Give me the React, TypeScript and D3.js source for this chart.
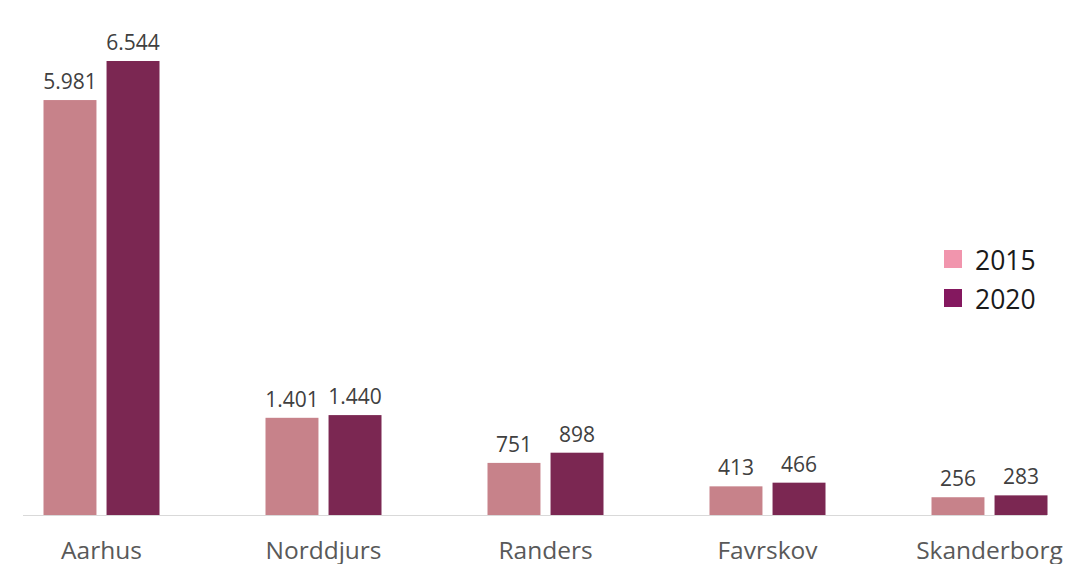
import React from "react";
import * as d3 from "d3";

const categories = ["Aarhus", "Norddjurs", "Randers", "Favrskov", "Skanderborg"];
const seriesNames = ["2015", "2020"];
const values2015 = [5981, 1401, 751, 413, 256];
const values2020 = [6544, 1440, 898, 466, 283];
const valueLabels2015 = ["5.981", "1.401", "751", "413", "256"];
const valueLabels2020 = ["6.544", "1.440", "898", "466", "283"];

const barColors = ["#c7828a", "#7b2752"];
const legendColors = ["#f195ad", "#84185f"];

const W = 1066;
const H = 564;
const baseY = 515;

export default function App() {
  const x = d3.scaleBand<string>().domain(categories).range([-9.5, 1100.5]).padding(0);
  const inner = d3.scaleBand<string>().domain(seriesNames).range([-58, 58]).paddingInner(0.16);
  const y = d3.scaleLinear().domain([0, 7000]).range([baseY, baseY - 7000 * (454 / 6544)]);
  const series = [values2015, values2020];
  const labels = [valueLabels2015, valueLabels2020];
  const font = "'Open Sans', 'Noto Sans', sans-serif";

  return (
    <svg width={W} height={H} style={{ position: "absolute", left: 0, top: 0, background: "#fff" }}>
      <line x1={23} x2={1047} y1={baseY + 0.5} y2={baseY + 0.5} stroke="#d9d9d9" strokeWidth={1} />
      {categories.map((c, i) => {
        const cx = (x(c) as number) + x.bandwidth() / 2;
        return (
          <g key={c}>
            {seriesNames.map((s, j) => {
              const v = series[j][i];
              const bx = cx + (inner(s) as number);
              const top = y(v);
              return (
                <g key={s}>
                  <rect x={bx} y={top} width={inner.bandwidth()} height={baseY - top} fill={barColors[j]} />
                  <text
                    x={bx + inner.bandwidth() / 2}
                    y={top - 11}
                    textAnchor="middle"
                    fontFamily={font}
                    fontSize={21}
                    fill="#404040"
                  >
                    {labels[j][i]}
                  </text>
                </g>
              );
            })}
            <text x={cx} y={559} textAnchor="middle" fontFamily={font} fontSize={24.5} fill="#595959">
              {c}
            </text>
          </g>
        );
      })}
      {seriesNames.map((s, j) => (
        <g key={s} transform={`translate(944, ${250 + j * 39})`}>
          <rect x={0} y={0} width={18} height={18} fill={legendColors[j]} />
          <text x={31} y={19.5} fontFamily={font} fontSize={26.5} fill="#1a1a1a">
            {s}
          </text>
        </g>
      ))}
    </svg>
  );
}
